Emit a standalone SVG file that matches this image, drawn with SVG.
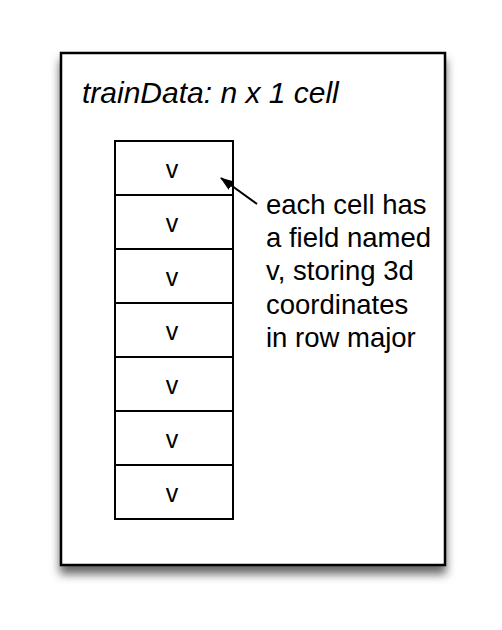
<svg xmlns="http://www.w3.org/2000/svg" width="502" height="630" viewBox="0 0 502 630">
<defs>
<filter id="shadow" x="-10%" y="-10%" width="120%" height="120%">
<feDropShadow dx="0" dy="8" stdDeviation="5" flood-color="#000" flood-opacity="0.6"/>
</filter>
<marker id="arrow" viewBox="0 0 14 10" refX="13" refY="5" markerWidth="14" markerHeight="10" markerUnits="userSpaceOnUse" orient="auto">
<path d="M0,0 L14,5 L0,10 Z" fill="#000"/>
</marker>
<style>
text { font-family: "Liberation Sans", Arial, sans-serif; fill: #000; }
.cell rect { fill: #fff; stroke: #000; stroke-width: 2; }
.cell text { font-size: 25px; text-anchor: middle; }
.note { font-size: 27.5px; }
.title { font-size: 30px; font-style: italic; }
</style>
</defs>
<g id="frame">
<rect x="61" y="53" width="384" height="512" fill="#fff" stroke="#000" stroke-width="2.5" filter="url(#shadow)"/>
<text class="title" x="82" y="103">trainData: n x 1 cell</text>
</g>
<g id="cell1" class="cell"><rect x="115" y="141" width="118" height="54"/><text x="172" y="178">v</text></g>
<g id="cell2" class="cell"><rect x="115" y="195" width="118" height="54"/><text x="172" y="232">v</text></g>
<g id="cell3" class="cell"><rect x="115" y="249" width="118" height="54"/><text x="172" y="286">v</text></g>
<g id="cell4" class="cell"><rect x="115" y="303" width="118" height="54"/><text x="172" y="340">v</text></g>
<g id="cell5" class="cell"><rect x="115" y="357" width="118" height="54"/><text x="172" y="394">v</text></g>
<g id="cell6" class="cell"><rect x="115" y="411" width="118" height="54"/><text x="172" y="448">v</text></g>
<g id="cell7" class="cell"><rect x="115" y="465" width="118" height="54"/><text x="172" y="502">v</text></g>
<g id="note">
<text class="note" x="266" y="214">each cell has</text>
<text class="note" x="266" y="247">a field named</text>
<text class="note" x="266" y="280">v, storing 3d</text>
<text class="note" x="266" y="314">coordinates</text>
<text class="note" x="266" y="347">in row major</text>
</g>
<g id="connectors">
<line x1="257" y1="204" x2="221" y2="178" stroke="#000" stroke-width="2" marker-end="url(#arrow)"/>
</g>
</svg>
